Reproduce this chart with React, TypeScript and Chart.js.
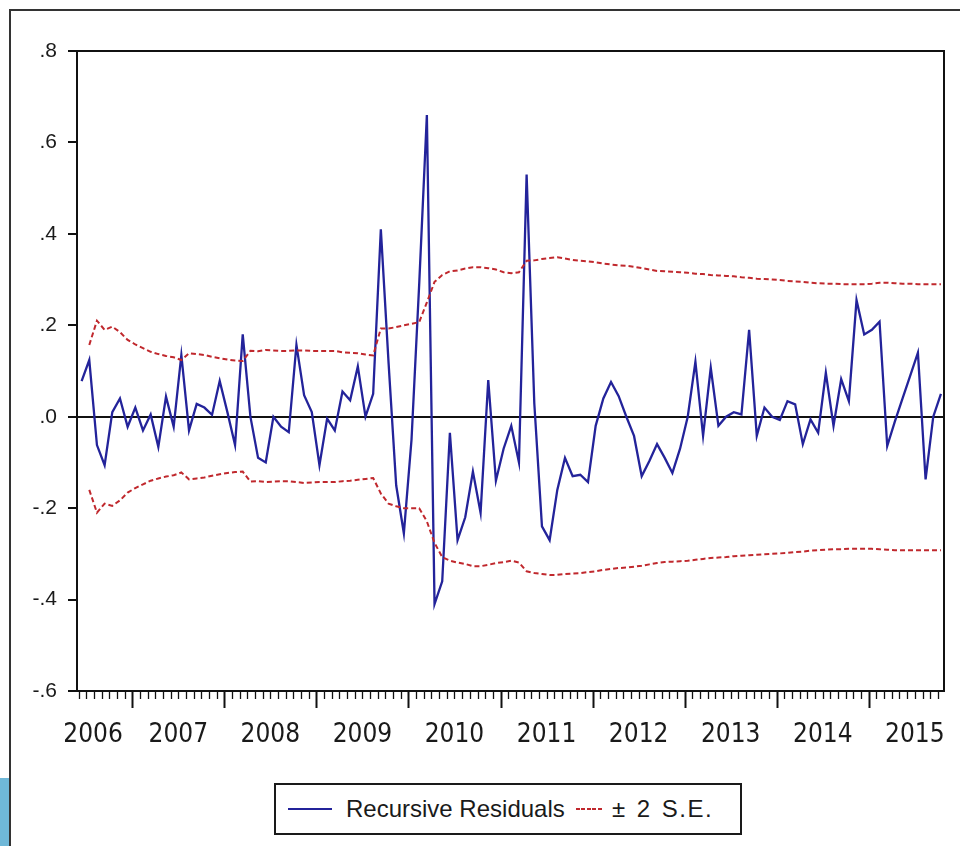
import React, { useEffect, useRef } from 'react';
import { Chart, registerables } from 'chart.js';

Chart.register(...registerables);

// ---- data (monthly, June 2006 .. October 2015) ----
const FIRST_YEAR = 2006;
const FIRST_MONTH = 6; // June

const yearLabels = ['2006', '2007', '2008', '2009', '2010', '2011', '2012', '2013', '2014', '2015'];
const yTickValues = [-0.6, -0.4, -0.2, 0, 0.2, 0.4, 0.6, 0.8];

const recursiveResiduals = [
  0.078, 0.124, -0.062, -0.106, 0.01, 0.04, -0.022, 0.02, -0.03, 0.005,
  -0.066, 0.044, -0.022, 0.135, -0.03, 0.028, 0.02, 0.004, 0.078, 0.01,
  -0.062, 0.18, 0.0, -0.09, -0.1, 0.0, -0.022, -0.034, 0.157, 0.047,
  0.01, -0.106, -0.004, -0.03, 0.055, 0.036, 0.11, 0.0, 0.05, 0.41,
  0.12, -0.15, -0.255, -0.05, 0.29, 0.66, -0.41, -0.36, -0.035, -0.27,
  -0.22, -0.12, -0.21, 0.08, -0.14, -0.07, -0.02, -0.1, 0.53, 0.03,
  -0.24, -0.27, -0.16, -0.09, -0.13, -0.127, -0.143, -0.02, 0.04, 0.076,
  0.045, 0.0, -0.042, -0.13, -0.097, -0.06, -0.09, -0.123, -0.07, 0.0,
  0.12, -0.042, 0.107, -0.02, 0.0, 0.01, 0.005, 0.19, -0.042, 0.02,
  0.0, -0.007, 0.034, 0.027, -0.06, -0.006, -0.035, 0.096, -0.02, 0.082,
  0.034, 0.255, 0.18, 0.19, 0.208, -0.064, -0.01, 0.04, 0.09, 0.14,
  -0.137, 0.0, 0.05,
];

const upperBand = [
  null, 0.157, 0.21, 0.19, 0.197, 0.185, 0.168, 0.158, 0.15, 0.142,
  0.137, 0.133, 0.13, 0.124, 0.139, 0.137, 0.135, 0.131, 0.128, 0.125,
  0.123, 0.122, 0.144, 0.143, 0.146, 0.145, 0.144, 0.144, 0.145, 0.145,
  0.144, 0.144, 0.144, 0.144, 0.141, 0.14, 0.139, 0.136, 0.134, 0.193,
  0.193, 0.196, 0.2, 0.203, 0.207, 0.25, 0.295, 0.31, 0.318, 0.32,
  0.324, 0.327, 0.327, 0.325, 0.322, 0.316, 0.314, 0.316, 0.341, 0.342,
  0.345, 0.347, 0.349, 0.346, 0.343, 0.341, 0.34, 0.338, 0.335, 0.333,
  0.331, 0.33, 0.328, 0.325, 0.322, 0.319, 0.318, 0.317, 0.316, 0.315,
  0.313, 0.312, 0.31, 0.309, 0.308, 0.307, 0.305, 0.304, 0.302, 0.301,
  0.3, 0.299, 0.297, 0.296, 0.295, 0.293, 0.292, 0.291, 0.291, 0.29,
  0.29, 0.29, 0.29, 0.291, 0.293, 0.293, 0.292, 0.291, 0.291, 0.29,
  0.29, 0.29, 0.29,
];

const lowerBand = [
  null, -0.16, -0.21, -0.19, -0.195, -0.183, -0.166, -0.156, -0.148, -0.14,
  -0.135, -0.131, -0.128, -0.122, -0.137, -0.135, -0.133, -0.129, -0.126, -0.123,
  -0.121, -0.12, -0.142, -0.141, -0.143, -0.142, -0.141, -0.141, -0.143, -0.145,
  -0.144, -0.143, -0.143, -0.143, -0.141, -0.14, -0.138, -0.136, -0.134, -0.168,
  -0.19, -0.196, -0.2, -0.2, -0.2, -0.229, -0.276, -0.307, -0.315, -0.319,
  -0.322, -0.327, -0.327, -0.324, -0.32, -0.318, -0.315, -0.319, -0.338, -0.342,
  -0.344, -0.346, -0.346, -0.344, -0.343, -0.342, -0.34, -0.338, -0.335, -0.333,
  -0.331, -0.33, -0.328, -0.326, -0.323, -0.32, -0.318, -0.317, -0.316, -0.315,
  -0.313, -0.311, -0.309, -0.308, -0.307, -0.305, -0.304, -0.303, -0.302, -0.301,
  -0.3, -0.299, -0.298, -0.296, -0.295, -0.293, -0.292, -0.291, -0.29, -0.29,
  -0.289, -0.289, -0.289, -0.289, -0.29, -0.291, -0.292, -0.292, -0.292, -0.292,
  -0.292, -0.292, -0.292,
];

// observation index -> calendar month (1..12)
const monthOf = (i: number) => ((FIRST_MONTH - 1 + i) % 12) + 1;
// index of January of a given year (relative to first observation)
const janIndex = (year: number) => (year - FIRST_YEAR) * 12 - (FIRST_MONTH - 1);
const yearLabelPos = yearLabels.map((y) => Math.max(janIndex(Number(y)) + 5.6, 1.5));

const BLUE = '#23239a';
const RED = '#c0282d';
const X_FONT = '"DejaVu Sans Condensed", "Liberation Sans Narrow", "Liberation Sans", sans-serif';
const Y_FONT = '"Liberation Sans", Arial, sans-serif';

const fmtY = (v: number) => {
  const s = (Math.round(v * 10) / 10).toFixed(1);
  return s.replace('0.', '.');
};

const frameAndTicks = {
  id: 'frameAndTicks',
  afterDatasetsDraw(chart: any) {
    const { ctx, chartArea, scales } = chart;
    const x = scales.x;
    ctx.save();
    ctx.strokeStyle = '#111';
    ctx.lineWidth = 2;
    ctx.strokeRect(chartArea.left, chartArea.top, chartArea.right - chartArea.left, chartArea.bottom - chartArea.top);
    // monthly minor ticks, yearly major ticks (below the axis)
    for (let i = 0; i < recursiveResiduals.length; i++) {
      const px = Math.round(x.getPixelForValue(i - 0.4)) + 0.5;
      const major = monthOf(i) === 1;
      ctx.lineWidth = major ? 2 : 1.3;
      ctx.beginPath();
      ctx.moveTo(px, chartArea.bottom);
      ctx.lineTo(px, chartArea.bottom + (major ? 17 : 8));
      ctx.stroke();
    }
    ctx.restore();
  },
};

function ResidualChart() {
  const ref = useRef<HTMLCanvasElement | null>(null);
  useEffect(() => {
    if (!ref.current) return;
    const xs = recursiveResiduals.map((_, i) => i);
    const chart = new Chart(ref.current, {
      type: 'line',
      data: {
        datasets: [
          {
            label: '+2 S.E.',
            data: xs.map((i) => ({ x: i, y: upperBand[i] })),
            borderColor: RED,
            borderWidth: 2,
            borderDash: [5, 3],
            pointRadius: 0,
            tension: 0,
            spanGaps: false,
          },
          {
            label: '-2 S.E.',
            data: xs.map((i) => ({ x: i, y: lowerBand[i] })),
            borderColor: RED,
            borderWidth: 2,
            borderDash: [5, 3],
            pointRadius: 0,
            tension: 0,
            spanGaps: false,
          },
          {
            label: 'Recursive Residuals',
            data: xs.map((i) => ({ x: i, y: recursiveResiduals[i] })),
            borderColor: BLUE,
            borderWidth: 2.3,
            pointRadius: 0,
            tension: 0,
          },
        ],
      },
      options: {
        responsive: false,
        animation: false,
        parsing: false as any,
        layout: { padding: { left: 17, right: 16, top: 51, bottom: 95 } },
        plugins: { legend: { display: false }, tooltip: { enabled: false } },
        scales: {
          x: {
            type: 'linear',
            min: -0.6,
            max: recursiveResiduals.length - 0.6,
            afterBuildTicks: (s: any) => {
              s.ticks = yearLabelPos.map((v) => ({ value: v }));
            },
            afterFit: (s: any) => {
              s.height = 60;
              s.paddingLeft = 0;
              s.paddingRight = 0;
            },
            grid: { display: false, drawTicks: false },
            border: { display: false },
            ticks: {
              autoSkip: false,
              maxRotation: 0,
              padding: 29,
              color: '#1a1a1a',
              font: { family: X_FONT, size: 26 },
              callback: (_v: any, idx: number) => yearLabels[idx],
            },
          },
          y: {
            type: 'linear',
            min: -0.6,
            max: 0.8,
            afterBuildTicks: (s: any) => {
              s.ticks = yTickValues.map((v) => ({ value: v }));
            },
            afterFit: (s: any) => {
              s.width = 60;
            },
            grid: {
              display: true,
              drawOnChartArea: true,
              drawTicks: true,
              tickLength: 9,
              tickColor: '#111',
              tickWidth: 2,
              color: (c: any) => (c.tick && Math.abs(c.tick.value) < 1e-9 ? '#111' : 'rgba(0,0,0,0)'),
              lineWidth: 2,
            },
            border: { display: false },
            ticks: {
              padding: 11,
              color: '#1a1a1a',
              font: { family: Y_FONT, size: 21 },
              callback: (v: any) => fmtY(Number(v)),
            },
          },
        },
      },
      plugins: [frameAndTicks],
    } as any);
    return () => chart.destroy();
  }, []);
  return (
    <canvas
      ref={ref}
      width={960}
      height={846}
      style={{ position: 'absolute', left: 0, top: 0, width: 960, height: 846 }}
    />
  );
}

export default function App() {
  return (
    <div
      style={{
        position: 'fixed',
        left: 0,
        top: 0,
        width: 960,
        height: 846,
        background: '#fff',
        overflow: 'hidden',
      }}
    >
      {/* outer frame of the figure */}
      <div style={{ position: 'absolute', left: 9, top: 9, width: 951, height: 2, background: '#333' }} />
      <div style={{ position: 'absolute', left: 9, top: 9, width: 2, height: 837, background: '#333' }} />
      <div style={{ position: 'absolute', left: 0, top: 778, width: 9, height: 68, background: '#6fb8d8' }} />
      <ResidualChart />
      {/* legend */}
      <div
        style={{
          position: 'absolute',
          left: 274,
          top: 783,
          width: 468,
          height: 52,
          boxSizing: 'border-box',
          border: '2px solid #1a1a1a',
          background: '#fff',
          fontFamily: '"Liberation Sans", Arial, sans-serif',
          fontSize: 24,
          color: '#1a1a1a',
        }}
      >
        <div style={{ position: 'absolute', left: 12, top: 23, width: 44, height: 2, background: BLUE }} />
        <div style={{ position: 'absolute', left: 70, top: 0, lineHeight: '48px', whiteSpace: 'nowrap' }}>
          Recursive Residuals
        </div>
        <div
          style={{
            position: 'absolute',
            left: 300,
            top: 23,
            width: 26,
            height: 2,
            background: `repeating-linear-gradient(to right, ${RED} 0px, ${RED} 4px, transparent 4px, transparent 5.5px)`,
          }}
        />
        <div
          style={{
            position: 'absolute',
            left: 336,
            top: 0,
            lineHeight: '48px',
            whiteSpace: 'nowrap',
            letterSpacing: 1.5,
            wordSpacing: 2,
          }}
        >
          ± 2 S.E.
        </div>
      </div>
    </div>
  );
}
